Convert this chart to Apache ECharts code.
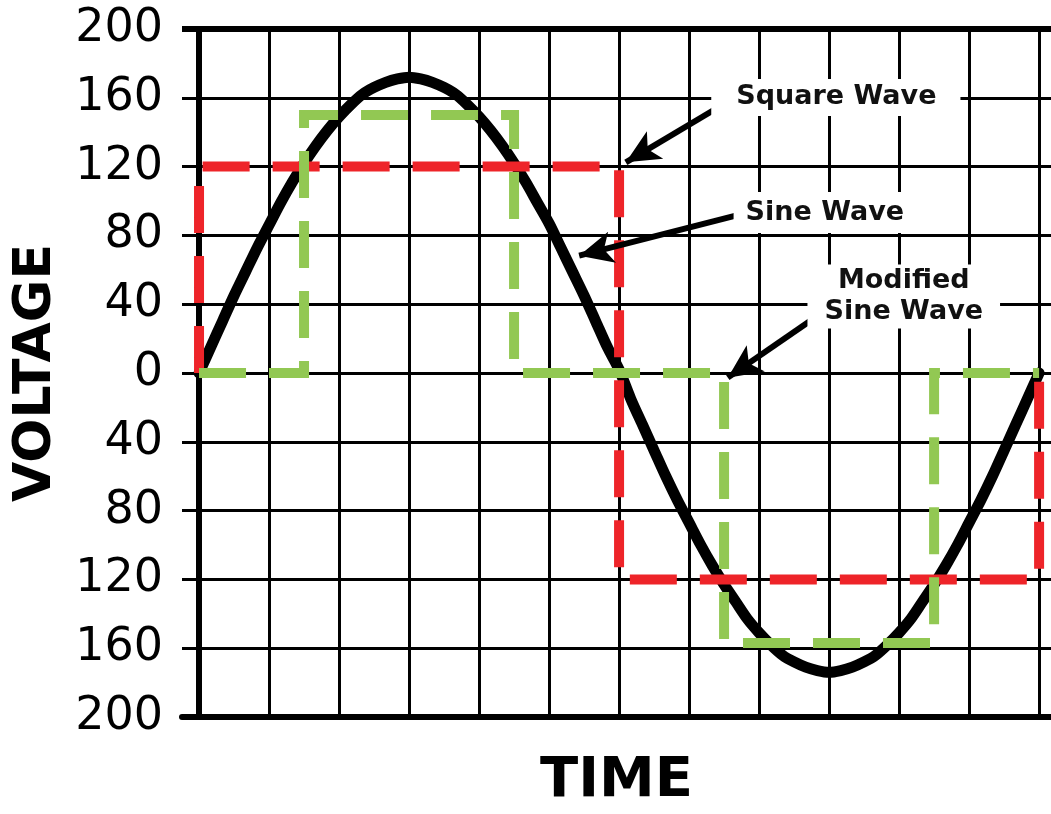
<!DOCTYPE html>
<html>
<head>
<meta charset="utf-8">
<script src="https://cdn.jsdelivr.net/npm/echarts@6/dist/echarts.min.js"></script>
<style>
  html, body { margin: 0; padding: 0; background: #fff; overflow: hidden; }
  #chart { width: 1051px; height: 814px; position: absolute; left: 0; top: 0; }
</style>
</head>
<body>
<div id="chart"></div>
<script>
// ---- data ----
const yTicks = [-200, -160, -120, -80, -40, 0, 40, 80, 120, 160, 200];
const timeGrid = [0, 30, 60, 90, 120, 150, 180, 210, 240, 270, 300, 330, 360];

const sineX = [0, 5, 10, 15, 20, 25, 30, 35, 40, 45, 50, 55, 60, 65, 70, 75, 80, 85,
               90, 95, 100, 105, 110, 115, 120, 125, 130, 135, 140, 145, 150, 155, 160, 165, 170, 175,
               180, 185, 190, 195, 200, 205, 210, 215, 220, 225, 230, 235, 240, 245, 250, 255, 260, 265,
               270, 275, 280, 285, 290, 295, 300, 305, 310, 315, 320, 325, 330, 335, 340, 345, 350, 355, 360];
const sineV = [0, 15, 30, 45, 59, 73, 86, 99, 111, 122, 132, 141, 149, 156, 162, 166, 169, 171,
               172, 171, 169, 166, 162, 156, 149, 141, 132, 122, 111, 99, 87, 73, 59, 45, 30, 15,
               2, -15, -30, -45, -60, -74, -87, -100, -112, -123, -133, -143, -151, -158, -164, -168, -171, -173,
               -174, -173, -171, -168, -164, -158, -151, -143, -133, -123, -112, -100, -87, -74, -60, -45, -30, -15, 0];

const squareX = [0, 0, 180, 180, 360, 360];
const squareV = [0, 120, 120, -120, -120, 0];

const modX = [0, 45, 45, 135, 135, 225, 225, 315, 315, 360];
const modV = [0, 0, 150, 150, 0, 0, -157, -157, 0, 0];

const labelNames = ['Square Wave', 'Sine Wave', 'Modified\nSine Wave'];

// ---- chart ----
const FONT = 'DejaVu Sans';
const zip = (xs, ys) => xs.map((x, i) => [x, ys[i]]);

const chart = echarts.init(document.getElementById('chart'), null,
  { renderer: 'canvas', width: 1051, height: 814 });

const labelStyle = {
  show: true,
  formatter: '{b}',
  fontFamily: FONT,
  fontWeight: 'bold',
  fontSize: 27,
  lineHeight: 31,
  color: '#111',
  backgroundColor: '#fff',
  align: 'center',
  verticalAlign: 'middle',
  position: 'inside'
};

chart.setOption({
  animation: false,
  backgroundColor: '#fff',
  grid: { left: 182, right: 0, top: 29, bottom: 85, containLabel: false },
  xAxis: {
    type: 'value',
    min: -7.3,
    max: 365.1,
    name: 'TIME',
    nameLocation: 'middle',
    nameGap: 36,
    nameTextStyle: { fontFamily: FONT, fontWeight: 'bold', fontSize: 56, color: '#000' },
    axisLine: { show: true, onZero: false, lineStyle: { color: '#000', width: 6 } },
    axisTick: { show: false },
    axisLabel: { show: false },
    splitLine: { show: false }
  },
  yAxis: {
    type: 'value',
    min: yTicks[0],
    max: yTicks[yTicks.length - 1],
    interval: 40,
    name: 'VOLTAGE',
    nameLocation: 'middle',
    nameRotate: 90,
    nameGap: 120,
    nameTextStyle: { fontFamily: FONT, fontWeight: 'bold', fontSize: 52, color: '#000' },
    axisLine: { show: true, lineStyle: { color: '#000', width: 6 } },
    axisTick: { show: false },
    axisLabel: {
      margin: 19,
      fontFamily: FONT,
      fontSize: 46,
      color: '#000',
      formatter: v => String(Math.abs(v))
    },
    splitLine: { show: true, lineStyle: { color: '#000', width: 3 } }
  },
  series: [
    {
      name: 'Sine Wave',
      type: 'line',
      data: zip(sineX, sineV),
      smooth: 0.3,
      showSymbol: false,
      symbol: 'none',
      z: 2,
      lineStyle: { color: '#000', width: 11, join: 'round', cap: 'round' },
      markLine: {
        silent: true,
        z: 1,
        symbol: ['none', 'none'],
        label: { show: false },
        lineStyle: { color: '#000', width: 3, type: 'solid' },
        data: timeGrid.map(t => ({ xAxis: t }))
          .concat([{ yAxis: 200, lineStyle: { width: 6, color: '#000', type: 'solid' } }])
      }
    },
    {
      name: 'Square Wave',
      type: 'line',
      data: zip(squareX, squareV),
      showSymbol: false,
      symbol: 'none',
      z: 3,
      lineStyle: { color: '#EE2429', width: 10, type: [47, 23], cap: 'butt', join: 'miter' }
    },
    {
      name: 'Modified Sine Wave',
      type: 'line',
      data: zip(modX, modV),
      showSymbol: false,
      symbol: 'none',
      z: 4,
      lineStyle: { color: '#92C853', width: 10, type: [47, 23], cap: 'butt', join: 'miter' },
      markLine: {
        silent: true,
        z: 6,
        symbol: ['none', 'arrow'],
        symbolSize: [24, 34],
        symbolOffset: [0, 0],
        label: { show: false },
        lineStyle: { color: '#000', width: 6, type: 'solid' },
        itemStyle: { color: '#000' },
        data: [
          [{ coord: [225.3, 156.7] }, { coord: [182.9, 122.5] }],
          [{ coord: [230.4, 91.6] }, { coord: [162.9, 68.2] }],
          [{ coord: [262.6, 31.0] }, { coord: [226.6, -2.7] }]
        ]
      },
      markPoint: {
        silent: true,
        z: 7,
        symbol: 'rect',
        symbolSize: 1,
        itemStyle: { color: 'rgba(0,0,0,0)' },
        data: [
          { name: labelNames[0], coord: [272.9, 160.2], label: Object.assign({}, labelStyle, { padding: [3, 24, 3, 25] }) },
          { name: labelNames[1], coord: [268.2, 93.3], label: Object.assign({}, labelStyle, { padding: [5, 12, 5, 12] }) },
          { name: labelNames[2], coord: [302.0, 44.5], label: Object.assign({}, labelStyle, { padding: [1, 17, 1, 17] }) }
        ]
      }
    }
  ]
});
</script>
</body>
</html>
